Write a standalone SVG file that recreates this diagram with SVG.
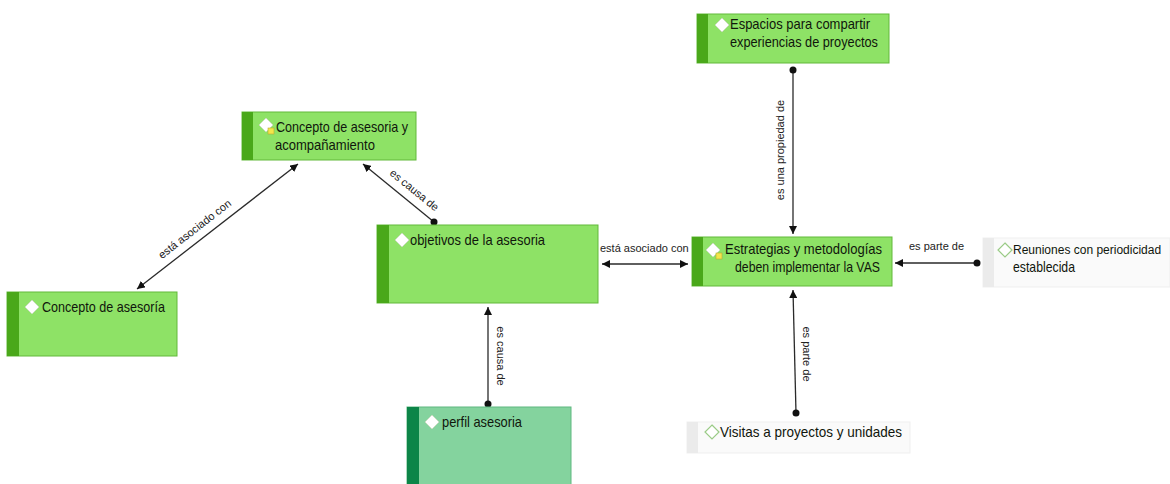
<svg xmlns="http://www.w3.org/2000/svg" width="1170" height="484" viewBox="0 0 1170 484">
  <style>
    .box { fill: #8ee266; stroke: #62b93a; stroke-width: 1; }
    .strip { fill: #4aa81a; }
    .box2 { fill: #84d39e; stroke: #5fb880; stroke-width: 1; }
    .strip2 { fill: #0c8548; }
    .box3 { fill: #fafafa; stroke: #efefef; stroke-width: 1; }
    .strip3 { fill: #ebebeb; }
    .dia { fill: #ffffff; stroke: #c9d8bf; stroke-width: 0.8; }
    .dia-o { fill: #ffffff; stroke: #9acb86; stroke-width: 1.2; }
    .t { font-family: "Liberation Sans", Arial, sans-serif; font-size: 14.5px; fill: #10160c; }
    .lbl { font-family: "Liberation Sans", Arial, sans-serif; font-size: 11px; fill: #222; }
    .con { stroke: #2a2a2a; stroke-width: 1.3; fill: none; }
    .dot { fill: #111; }
    .note { fill: #f2e64a; stroke: #b9a830; stroke-width: 0.6; }
  </style>
  <defs>
    <marker id="arrow" viewBox="0 0 10 10" refX="10" refY="5" markerWidth="8" markerHeight="8" markerUnits="userSpaceOnUse" orient="auto-start-reverse">
      <path d="M0,0 L10,5 L0,10 z" fill="#111"/>
    </marker>
  </defs>

  <rect width="1170" height="484" fill="#ffffff"/>

  <!-- connectors -->
  <g id="connectors">
    <line class="con" x1="137" y1="289" x2="298" y2="164" marker-start="url(#arrow)" marker-end="url(#arrow)"/>
    <text class="lbl" transform="translate(197,232) rotate(-37.8)" text-anchor="middle">está asociado con</text>

    <line class="con" x1="434" y1="222" x2="363" y2="164" marker-end="url(#arrow)"/>
    <circle class="dot" cx="434" cy="222" r="3.5"/>
    <text class="lbl" transform="translate(412,193) rotate(39)" text-anchor="middle">es causa de</text>

    <line class="con" x1="793" y1="70" x2="793" y2="234" marker-end="url(#arrow)"/>
    <circle class="dot" cx="793" cy="70" r="3.5"/>
    <text class="lbl" transform="translate(784,150) rotate(-90)" text-anchor="middle">es una propiedad de</text>

    <line class="con" x1="602" y1="264" x2="688" y2="264" marker-start="url(#arrow)" marker-end="url(#arrow)"/>
    <text class="lbl" x="600" y="252">está asociado con</text>

    <line class="con" x1="977" y1="263" x2="895" y2="263" marker-end="url(#arrow)"/>
    <circle class="dot" cx="977" cy="263" r="3.5"/>
    <text class="lbl" x="909" y="250">es parte de</text>

    <line class="con" x1="488" y1="404" x2="488" y2="307" marker-end="url(#arrow)"/>
    <circle class="dot" cx="488" cy="404" r="3.5"/>
    <text class="lbl" transform="translate(497,356) rotate(90)" text-anchor="middle">es causa de</text>

    <line class="con" x1="796" y1="413" x2="793" y2="290" marker-end="url(#arrow)"/>
    <circle class="dot" cx="796" cy="413" r="3.5"/>
    <text class="lbl" transform="translate(803,354) rotate(90)" text-anchor="middle">es parte de</text>
  </g>

  <!-- Concepto de asesoria y acompañamiento -->
  <g id="node-concepto-acompanamiento">
    <rect class="box" x="242" y="112" width="174" height="48"/>
    <rect class="strip" x="242" y="112" width="11" height="48"/>
    <path class="dia" d="M266,118 L273,125 L266,132 L259,125 z"/>
    <rect class="note" x="268" y="128" width="6" height="6"/>
    <text class="t" x="276" y="132" textLength="132" lengthAdjust="spacingAndGlyphs">Concepto de asesoria y</text>
    <text class="t" x="275" y="150" textLength="100" lengthAdjust="spacingAndGlyphs">acompañamiento</text>
  </g>

  <!-- Concepto de asesoría -->
  <g id="node-concepto-asesoria">
    <rect class="box" x="7" y="292" width="170" height="64"/>
    <rect class="strip" x="7" y="292" width="12" height="64"/>
    <path class="dia" d="M32,300 L39,307 L32,314 L25,307 z"/>
    <text class="t" x="42" y="312" textLength="123" lengthAdjust="spacingAndGlyphs">Concepto de asesoría</text>
  </g>

  <!-- objetivos de la asesoria -->
  <g id="node-objetivos">
    <rect class="box" x="377" y="225" width="221" height="78"/>
    <rect class="strip" x="377" y="225" width="12" height="78"/>
    <path class="dia" d="M402,233 L409,240 L402,247 L395,240 z"/>
    <text class="t" x="410" y="245" textLength="135" lengthAdjust="spacingAndGlyphs">objetivos de la asesoria</text>
  </g>

  <!-- Espacios para compartir experiencias de proyectos -->
  <g id="node-espacios">
    <rect class="box" x="697" y="14" width="192" height="49"/>
    <rect class="strip" x="697" y="14" width="11" height="49"/>
    <path class="dia" d="M722,18 L729,25 L722,32 L715,25 z"/>
    <text class="t" x="730" y="29" textLength="140" lengthAdjust="spacingAndGlyphs">Espacios para compartir</text>
    <text class="t" x="730" y="47" textLength="148" lengthAdjust="spacingAndGlyphs">experiencias de proyectos</text>
  </g>

  <!-- Estrategias y metodologías deben implementar la VAS -->
  <g id="node-estrategias">
    <rect class="box" x="692" y="237" width="200" height="49"/>
    <rect class="strip" x="692" y="237" width="11" height="49"/>
    <path class="dia" d="M713,243 L720,250 L713,257 L706,250 z"/>
    <rect class="note" x="716" y="253" width="6" height="6"/>
    <text class="t" x="725" y="254" textLength="157" lengthAdjust="spacingAndGlyphs">Estrategias y metodologías</text>
    <text class="t" x="735" y="272" textLength="145" lengthAdjust="spacingAndGlyphs">deben implementar  la VAS</text>
  </g>

  <!-- Reuniones con periodicidad establecida -->
  <g id="node-reuniones">
    <rect class="box3" x="983" y="238" width="187" height="49"/>
    <rect class="strip3" x="983" y="238" width="11" height="49"/>
    <path class="dia-o" d="M1005,243 L1012,250 L1005,257 L998,250 z"/>
    <text class="t" x="1013" y="254" style="font-size:12px">Reuniones con periodicidad</text>
    <text class="t" x="1013" y="272" textLength="62" lengthAdjust="spacingAndGlyphs">establecida</text>
  </g>

  <!-- perfil asesoria -->
  <g id="node-perfil">
    <rect class="box2" x="407" y="407" width="164" height="90"/>
    <rect class="strip2" x="407" y="407" width="12" height="90"/>
    <path class="dia" d="M432,415 L439,422 L432,429 L425,422 z"/>
    <text class="t" x="442" y="427" textLength="80" lengthAdjust="spacingAndGlyphs">perfil asesoria</text>
  </g>

  <!-- Visitas a proyectos y unidades -->
  <g id="node-visitas">
    <rect class="box3" x="687" y="422" width="223" height="31"/>
    <rect class="strip3" x="687" y="422" width="11" height="31"/>
    <path class="dia-o" d="M712,425 L719,432 L712,439 L705,432 z"/>
    <text class="t" x="720" y="437" textLength="182" lengthAdjust="spacingAndGlyphs">Visitas a proyectos y unidades</text>
  </g>
</svg>
